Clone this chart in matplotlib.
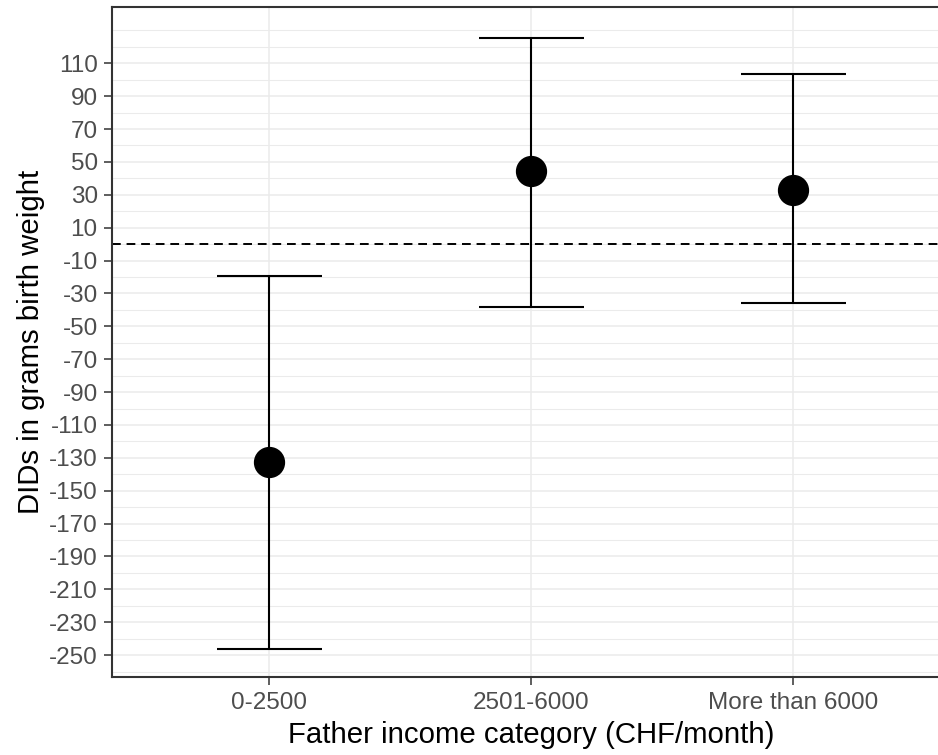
import matplotlib.pyplot as plt
import numpy as np

# Werte
categories = ["0-2500", "2501-6000", "More than 6000"]
estimates = [-132.4, 44.2, 33.0]
ci_lower = [-246.0, -38.1, -35.9]
ci_upper = [-19.3, 125.3, 103.4]
y_ticks = list(range(-250, 111, 20))

plt.rcParams["font.family"] = ["Liberation Sans", "DejaVu Sans"]
plt.rcParams["axes.unicode_minus"] = False

fig = plt.figure(figsize=(9.38, 7.55), dpi=100)
ax = fig.add_axes([0.1197, 0.1029, 0.8936, 0.8882])

x = np.arange(len(categories))

# Gitterlinien (ggplot theme_bw)
for v in range(-260, 131, 10):
    lw = 1.1 if v in y_ticks else 0.75
    ax.axhline(v, color="#EBEBEB", lw=lw, zorder=0)
for xi in x:
    ax.axvline(xi, color="#EBEBEB", lw=1.1, zorder=0)

ax.axhline(0, color="black", lw=1.4, linestyle=(0, (4.5, 3)), zorder=1)

ax.vlines(x, ci_lower, ci_upper, color="black", lw=1.5, zorder=2)
ax.hlines(ci_lower, x - 0.2, x + 0.2, color="black", lw=1.5, zorder=2)
ax.hlines(ci_upper, x - 0.2, x + 0.2, color="black", lw=1.5, zorder=2)
ax.plot(x, estimates, "o", color="black", ms=21.5, zorder=3)

ax.set_xlim(-0.6, 2.6)
ax.set_ylim(-263.5, 144.4)
ax.set_xticks(x)
ax.set_xticklabels(categories)
ax.set_yticks(y_ticks)

ax.tick_params(axis="both", length=5.5, width=1.1, color="#333333",
               labelsize=17.5, labelcolor="#4D4D4D", pad=5)

for sp in ax.spines.values():
    sp.set_color("#333333")
    sp.set_linewidth(1.5)

ax.set_xlabel("Father income category (CHF/month)", fontsize=21.2, labelpad=5)
ax.set_ylabel("DIDs in grams birth weight", fontsize=21.2, labelpad=3)

fig.savefig("out.png", dpi=100)
plt.close(fig)
